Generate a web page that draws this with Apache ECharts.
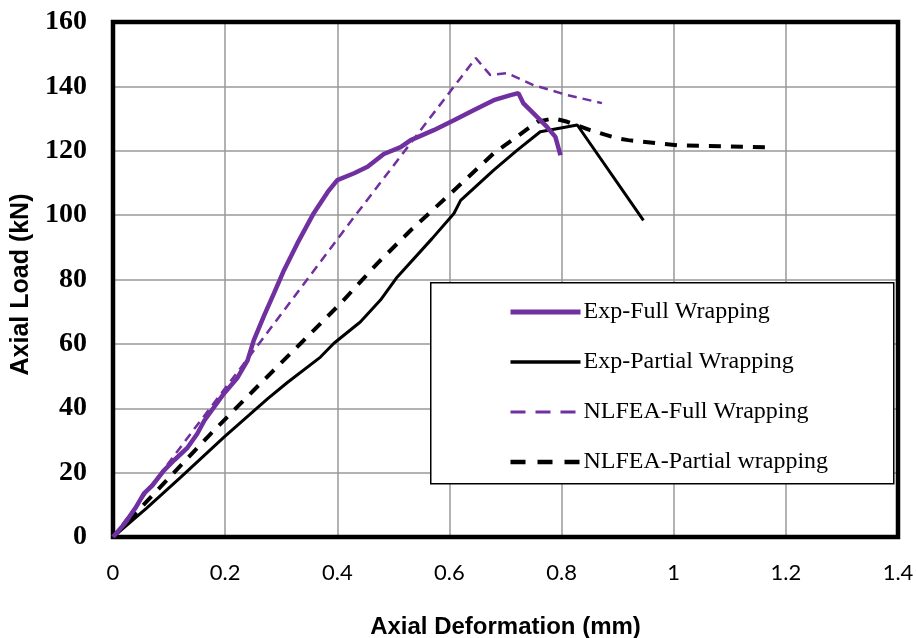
<!DOCTYPE html>
<html>
<head>
<meta charset="utf-8">
<script src="https://cdn.jsdelivr.net/npm/echarts@6/dist/echarts.min.js"></script>
<style>
  html, body { margin: 0; padding: 0; background: #fff; }
  #chart { width: 916px; height: 638px; }
</style>
</head>
<body>
<div id="chart"></div>
<script>
// axial deformation (mm) vs axial load (kN)
const expFull = [
  [0, 0], [0.02, 4], [0.04, 9], [0.055, 13.5], [0.07, 16], [0.091, 20.7],
  [0.11, 24], [0.133, 27.8], [0.15, 32], [0.163, 36.2], [0.183, 41],
  [0.198, 44.6], [0.222, 49.5], [0.24, 54.9], [0.251, 61.1], [0.27, 69],
  [0.287, 75.7], [0.305, 82.9], [0.329, 91.3], [0.358, 100.6], [0.383, 107.2],
  [0.4, 110.9], [0.43, 113], [0.454, 115], [0.483, 119], [0.513, 121.1],
  [0.531, 123.3], [0.572, 126.4], [0.608, 129.5], [0.643, 132.6], [0.679, 135.7],
  [0.709, 137.3], [0.723, 137.9], [0.732, 134.7], [0.75, 131.6], [0.774, 127.4],
  [0.789, 124.3], [0.798, 118.6]
]
const expPartial = [
  [0, 0], [0.06, 9], [0.121, 18.6], [0.198, 31], [0.276, 43], [0.311, 48],
  [0.37, 55.9], [0.394, 60.2], [0.441, 66.8], [0.477, 73.6], [0.507, 80.8],
  [0.569, 92.7], [0.608, 100.5], [0.62, 104.6], [0.679, 114], [0.721, 120.2],
  [0.762, 125.9], [0.828, 128], [0.946, 98.4]
]
const nlfeaFull = [
  [0, 0], [0.139, 32.2], [0.258, 59.5], [0.43, 99.4], [0.647, 148.8],
  [0.661, 145.9], [0.673, 143.5], [0.703, 144.1], [0.75, 140.4],
  [0.81, 137.3], [0.872, 134.8]
]
const nlfeaPartial = [
  [0, 0], [0.175, 32.2], [0.251, 45.6], [0.335, 60.2], [0.406, 72.6],
  [0.472, 85.1], [0.531, 95.3], [0.602, 106.7], [0.679, 119.2], [0.757, 129],
  [0.786, 130.1], [0.81, 129], [0.851, 126.4], [0.899, 123.9], [0.919, 123.3],
  [1.006, 121.7], [1.168, 121.1]
]
const seriesNames = ['Exp-Full Wrapping', 'Exp-Partial Wrapping', 'NLFEA-Full Wrapping', 'NLFEA-Partial wrapping']

const purple = '#7030A0'
const chart = echarts.init(document.getElementById('chart'))

const option = {
  animation: false,
  grid: {
    left: 113,
    top: 22,
    width: 785,
    height: 515,
    outerBoundsMode: 'none',
    show: true,
    borderColor: '#000',
    borderWidth: 4.5,
    z: 3
  },
  graphic: [
    {
      type: 'rect',
      left: 430,
      top: 282,
      shape: { width: 463, height: 201 },
      style: { fill: '#fff', stroke: '#000', lineWidth: 1.5 },
      z: 50
    }
  ],
  legend: {
    left: 503,
    top: 295,
    orient: 'vertical',
    itemWidth: 70,
    itemHeight: 14,
    itemGap: 26,
    z: 60,
    itemStyle: { opacity: 0 },
    textStyle: {
      fontFamily: 'Liberation Serif',
      fontSize: 24,
      color: '#000',
      padding: [0, 0, 0, -2]
    },
    data: [
      { name: seriesNames[0], lineStyle: { width: 5 } },
      { name: seriesNames[1], lineStyle: { width: 3.5 } },
      { name: seriesNames[2], lineStyle: { width: 3, type: [15, 10] } },
      { name: seriesNames[3], lineStyle: { width: 4.5, type: [15, 12] } }
    ]
  },
  xAxis: {
    type: 'value',
    min: 0,
    max: 1.4,
    interval: 0.2,
    name: 'Axial Deformation (mm)',
    nameLocation: 'middle',
    nameGap: 78,
    nameTextStyle: { fontFamily: 'Liberation Sans', fontWeight: 'bold', fontSize: 24, color: '#000' },
    axisLine: { show: false },
    axisTick: { show: false },
    axisLabel: { fontFamily: 'Lato', fontSize: 22, color: '#000', margin: 25 },
    splitLine: { lineStyle: { color: '#999', width: 1.5 } }
  },
  yAxis: {
    type: 'value',
    min: 0,
    max: 160,
    interval: 20,
    name: 'Axial Load (kN)',
    nameLocation: 'middle',
    nameGap: 60,
    nameTextStyle: { fontFamily: 'Liberation Sans', fontWeight: 'bold', fontSize: 25, color: '#000', padding: [0, 10, 0, 0] },
    axisLine: { show: false },
    axisTick: { show: false },
    axisLabel: { fontFamily: 'Liberation Serif', fontWeight: 'bold', fontSize: 28, color: '#000', margin: 26 },
    splitLine: { lineStyle: { color: '#999', width: 1.5 } }
  },
  series: [
    {
      name: seriesNames[2],
      type: 'line',
      data: nlfeaFull,
      symbol: 'none',
      itemStyle: { color: purple },
      lineStyle: { color: purple, width: 2.5, type: [9, 6] }
    },
    {
      name: seriesNames[3],
      type: 'line',
      data: nlfeaPartial,
      symbol: 'none',
      itemStyle: { color: '#000' },
      lineStyle: { color: '#000', width: 4, type: [12, 10] }
    },
    {
      name: seriesNames[1],
      type: 'line',
      data: expPartial,
      symbol: 'none',
      itemStyle: { color: '#000' },
      lineStyle: { color: '#000', width: 3 }
    },
    {
      name: seriesNames[0],
      type: 'line',
      data: expFull,
      symbol: 'none',
      itemStyle: { color: purple },
      lineStyle: { color: purple, width: 4.5 }
    }
  ]
}
chart.setOption(option)
</script>
</body>
</html>
